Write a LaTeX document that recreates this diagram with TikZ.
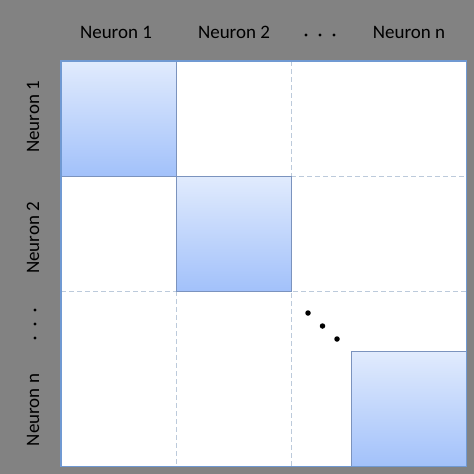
\documentclass[tikz,border=0pt]{standalone}
\usepackage{fontspec}
\setmainfont{Carlito}
\definecolor{bg}{HTML}{828282}
\definecolor{outer}{HTML}{7099D2}
\definecolor{blockedge}{HTML}{7B93BE}
\definecolor{gtop}{HTML}{E1EBFD}
\definecolor{gbot}{HTML}{A2C1FA}
\definecolor{dashc}{HTML}{BCCADB}
\tikzset{
  block/.style={draw=blockedge, line width=0.9pt, top color=gtop, bottom color=gbot, minimum size=115pt, inner sep=0pt, outer sep=0pt},
  lab/.style={font=\fontsize{19}{21}\selectfont, text=black, inner sep=0pt},
  dashline/.style={draw=dashc, dashed, dash pattern=on 5pt off 3pt, line width=0.8pt},
  dotmark/.style={circle, fill=black, inner sep=0pt, minimum size=5.5pt},
  griddot/.style={circle, fill=black, inner sep=0pt, minimum size=3.2pt}
}
\begin{document}
\begin{tikzpicture}[x=1pt,y=-1pt]
\path[fill=bg] (0,0) rectangle (474,474);
\useasboundingbox (0,0) rectangle (474,474);
\node[draw=none, fill=white, minimum size=405pt, inner sep=0pt, anchor=north west] (grid) at (61,61) {};
% dashed grid lines
\coordinate (v2t) at (291,61);
\coordinate (v2b) at (291,466);
\coordinate (v1t) at (176,291);
\coordinate (v1b) at (176,466);
\coordinate (h2l) at (61,291);
\coordinate (h2r) at (466,291);
\coordinate (h1l) at (291,176);
\coordinate (h1r) at (466,176);
\draw[dashline] (v2t) -- (v2b);
\draw[dashline] (v1t) -- (v1b);
\draw[dashline] (h2l) -- (h2r);
\draw[dashline] (h1l) -- (h1r);
% blocks
\node[block, anchor=north west] (b1) at (61,61) {};
\node[block, anchor=north west] (b2) at (176,176) {};
\node[block, anchor=north west] (bn) at (351.5,351.5) {};
\draw[outer, line width=1.2pt] (grid.north west) rectangle (grid.south east);
% diagonal dots
\node[dotmark] (d1) at (308,313) {};
\node[dotmark] (d2) at (322.5,326) {};
\node[dotmark] (d3) at (337,339) {};
% column labels
\node[lab] (c1) at (116,32) {Neuron 1};
\node[lab] (c2) at (234,32) {Neuron 2};
\node[griddot] (cd1) at (306,35) {};
\node[griddot] (cd2) at (320,35) {};
\node[griddot] (cd3) at (334,35) {};
\node[lab] (cn) at (409,32) {Neuron n};
% row labels
\node[lab, rotate=90] (r1) at (33,117) {Neuron 1};
\node[lab, rotate=90] (r2) at (33,238) {Neuron 2};
\node[griddot] (rd1) at (35,310) {};
\node[griddot] (rd2) at (35,324) {};
\node[griddot] (rd3) at (35,338) {};
\node[lab, rotate=90] (rn) at (33,410) {Neuron n};
\end{tikzpicture}
\end{document}
